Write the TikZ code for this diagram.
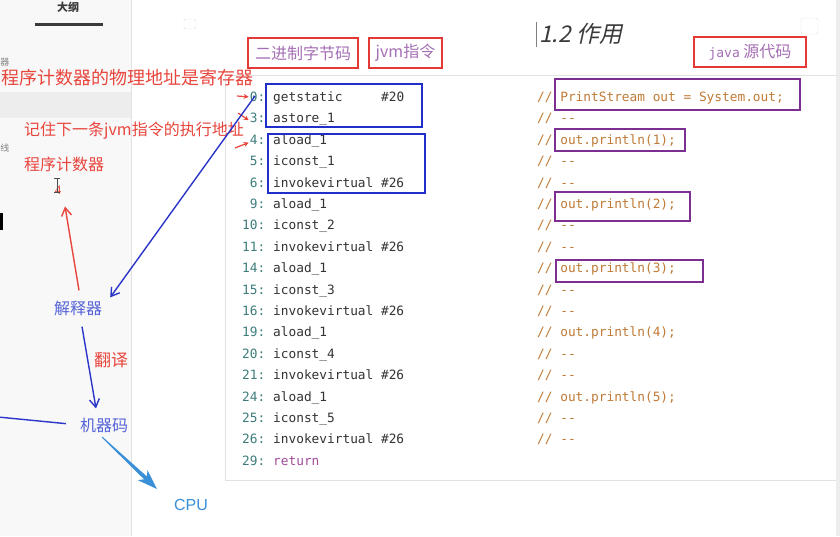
\documentclass[tikz,border=0pt]{standalone}
\usepackage{fontspec}
\setmainfont{Liberation Serif}
\newfontfamily\cjk{Noto Sans CJK SC}
\newfontfamily\cjkit[FakeSlant=0.22]{Noto Sans CJK SC}
\newfontfamily\mono{DejaVu Sans Mono}
\newfontfamily\sansf{Liberation Sans}
\usetikzlibrary{arrows.meta}
\definecolor{cLnum}{HTML}{3E7C7C}
\definecolor{cCode}{HTML}{333333}
\definecolor{cCmt}{HTML}{C07A35}
\definecolor{cRet}{HTML}{A04C98}
\definecolor{cRed}{HTML}{E8453C}
\definecolor{cRedBox}{HTML}{E53935}
\definecolor{cBlueBox}{HTML}{1F2FC8}
\definecolor{cPurpBox}{HTML}{7D2E91}
\definecolor{cLabel}{HTML}{A56FB5}
\definecolor{cFlow}{HTML}{5563D6}
\definecolor{cBlue}{HTML}{2B35C8}
\definecolor{cCPU}{HTML}{3A8FD9}
\definecolor{cSide}{HTML}{F8F8F9}
\definecolor{cBand}{HTML}{EDEDEE}
\definecolor{cBorder}{HTML}{E2E2E4}
\definecolor{cTitle}{HTML}{3A3A3A}
\newcommand\myline[4]{%
  \node[lnumst] (ln#1) at (265.5,{101.5+21.4*#1}) {#2:};
  \node[codest] (cd#1) at (273,{101.5+21.4*#1}) {#3};
  \node[cmtst] (cm#1) at (537,{101.5+21.4*#1}) {//~#4};
}
\begin{document}
\begin{tikzpicture}[x=1pt,y=-1pt,
  lnumst/.style={anchor=base east,inner sep=0,text=cLnum,font=\mono\fontsize{12.8}{15}\selectfont},
  codest/.style={anchor=base west,inner sep=0,text=cCode,font=\mono\fontsize{12.8}{15}\selectfont},
  cmtst/.style={anchor=base west,inner sep=0,text=cCmt,font=\mono\fontsize{12.8}{15}\selectfont},
  redbox/.style={draw=cRedBox,line width=1.8pt,inner sep=0,text=cLabel,font=\cjk\fontsize{16}{18}\selectfont},
  bluebox/.style={draw=cBlueBox,line width=1.6pt,inner sep=0},
  purplebox/.style={draw=cPurpBox,line width=1.4pt,inner sep=0},
  note/.style={inner sep=0,text=cRed,font=\cjk\fontsize{16}{18}\selectfont},
  flow/.style={inner sep=0,text=cFlow,font=\cjk\fontsize{16}{18}\selectfont},
  barb/.style={-{Straight Barb[length=8pt,width=10pt]},line width=1.4pt},
  smallarr/.style={-{Stealth[length=5pt,width=5pt]},line width=1.2pt,draw=cRed},
]
\useasboundingbox (0,0) rectangle (840,536);
\fill[white] (0,0) rectangle (840,536);
% sidebar
\fill[cSide] (0,0) rectangle (131,536);
\draw[cBorder] (131.5,0) -- (131.5,536);
\fill[cBand] (0,92) rectangle (131,118);
\node[inner sep=0,text=cTitle,font=\cjk\bfseries\fontsize{11}{13}\selectfont] (outline) at (68,7) {大纲};
\draw[line width=3pt,cTitle] (35,24) -- (103,24);
\node[inner sep=0,text=gray,font=\cjk\fontsize{9}{11}\selectfont] (sideA) at (5,62) {器};
\node[inner sep=0,text=gray,font=\cjk\fontsize{9}{11}\selectfont] (sideB) at (5,148) {线};
\fill[black] (0,213) rectangle (2.5,230);
% scrollbar and faint icons
\fill[cBand] (836,0) rectangle (840,536);
\draw[cBorder,rounded corners=2pt] (184,19) rectangle (196,29);
\draw[cBorder,rounded corners=2pt] (801,18) rectangle (818,34);
% code panel
\draw[cBorder,line width=0.8pt] (836,75) -- (225,75) -- (225,480) -- (836,480);
% title
\draw[gray,line width=1pt] (536,22) -- (536,47);
\node[anchor=base west,inner sep=0,text=cTitle,font=\cjkit\fontsize{23}{25}\selectfont] (title) at (539,42) {1.2 作用};
% labels
\node[redbox,minimum width=110,minimum height=30] (lbbin) at (303,53) {二进制字节码};
\node[redbox,minimum width=73,minimum height=30] (lbjvm) at (405.5,53) {jvm指令};
\node[redbox,minimum width=112,minimum height=30] (lbsrc) at (750,52) {{\mono\fontsize{13}{15}\selectfont java}~源代码};
% code
\myline{0}{0}{getstatic~~~~~\#20}{PrintStream out = System.out;}
\myline{1}{3}{astore\_1}{-{}-}
\myline{2}{4}{aload\_1}{out.println(1);}
\myline{3}{5}{iconst\_1}{-{}-}
\myline{4}{6}{invokevirtual~\#26}{-{}-}
\myline{5}{9}{aload\_1}{out.println(2);}
\myline{6}{10}{iconst\_2}{-{}-}
\myline{7}{11}{invokevirtual~\#26}{-{}-}
\myline{8}{14}{aload\_1}{out.println(3);}
\myline{9}{15}{iconst\_3}{-{}-}
\myline{10}{16}{invokevirtual~\#26}{-{}-}
\myline{11}{19}{aload\_1}{out.println(4);}
\myline{12}{20}{iconst\_4}{-{}-}
\myline{13}{21}{invokevirtual~\#26}{-{}-}
\myline{14}{24}{aload\_1}{out.println(5);}
\myline{15}{25}{iconst\_5}{-{}-}
\myline{16}{26}{invokevirtual~\#26}{-{}-}
\node[lnumst] (ln17) at (265.5,465.3) {29:};
\node[codest,text=cRet] (cd17) at (273,465.3) {return};
% highlight boxes
\node[bluebox,minimum width=156,minimum height=43] (bx1) at (344,105.5) {};
\node[bluebox,minimum width=157,minimum height=59] (bx2) at (346.5,163.5) {};
\node[purplebox,minimum width=245,minimum height=31] (px1) at (677.5,94.5) {};
\node[purplebox,minimum width=130,minimum height=22] (px2) at (620,140) {};
\node[purplebox,minimum width=135,minimum height=29] (px3) at (622.5,206.5) {};
\node[purplebox,minimum width=147,minimum height=22] (px4) at (629.5,271) {};
% annotations
\node[note,anchor=west,font=\cjk\fontsize{18}{20}\selectfont] (n1) at (1,78) {程序计数器的物理地址是寄存器};
\node[note,anchor=west] (n2) at (24,131) {记住下一条jvm指令的执行地址};
\node[note,anchor=west] (n3) at (24,164) {程序计数器};
\node[inner sep=0,text=cRed,font=\fontsize{13}{15}\selectfont] (pcv) at (58,190) {4};
\draw[gray!60!black,line width=0.8pt] (54,178) -- (60,178) (57,178) -- (57,192) (54,192) -- (60,192);
\coordinate (ra) at (237,96);
\coordinate (rb) at (238,113);
\coordinate (rc) at (235,148);
\draw[smallarr] (ra) -- ([xshift=-1]ln0.west);
\draw[smallarr] (rb) -- ([xshift=-1,yshift=-2]ln1.west);
\draw[smallarr] (rc) -- ([xshift=-1,yshift=-3]ln2.west);
% flow
\node[flow] (jsq) at (78,308) {解释器};
\node[note,font=\cjk\fontsize{17}{19}\selectfont] (fy) at (111,360) {翻译};
\node[flow] (jqm) at (104,425) {机器码};
\node[inner sep=0,text=cCPU,font=\sansf\fontsize{16}{18}\selectfont] (cpu) at (191,505) {CPU};
\coordinate (src0) at (255,96);
\draw[barb,cBlue] (src0) -- ([shift={(8,-3)}]jsq.north east);
\draw[barb,cRed] ([shift={(1,-10)}]jsq.north) -- ([shift={(7,12)}]pcv.south);
\draw[barb,cBlue] ([shift={(4,11)}]jsq.south) -- ([shift={(-8,-9)}]jqm.north);
\coordinate (offl) at (-2,417);
\draw[cBlue,line width=1.4pt,shorten >=14pt] (offl) -- (jqm.west);
\fill[cCPU] (102.35,436.64) -- (146.9,476.5) -- (147.5,470.2) -- (157,489) -- (137.7,480.1) -- (144.1,479.3) -- (101.65,437.36) -- cycle;
\end{tikzpicture}
\end{document}
